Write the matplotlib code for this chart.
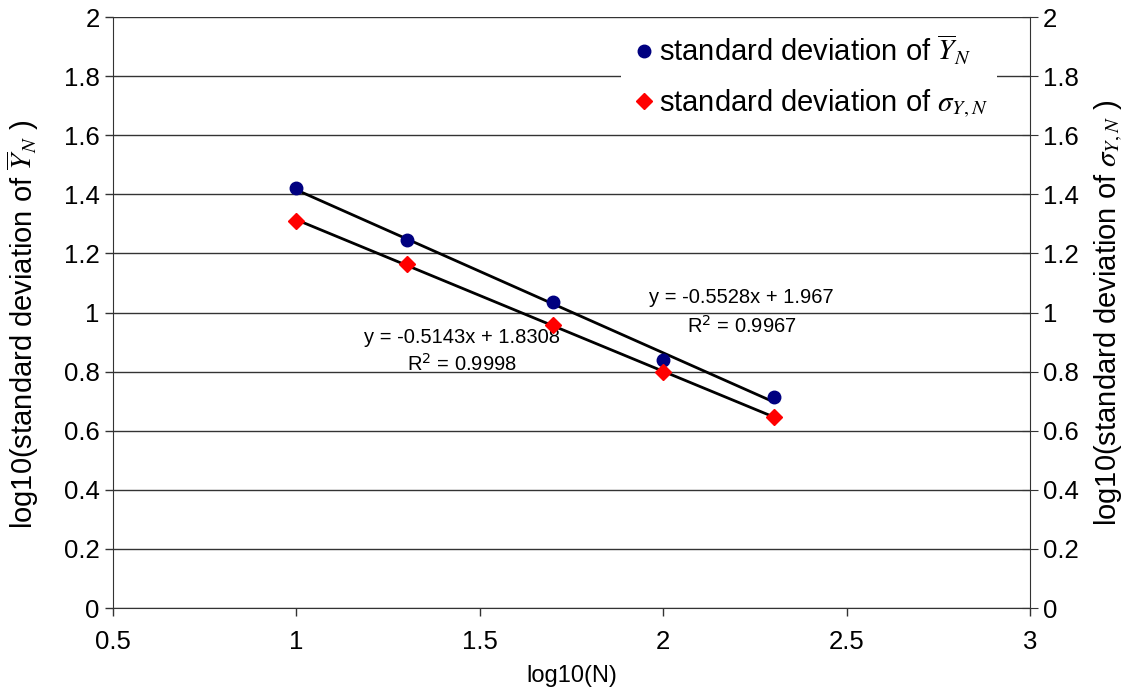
import numpy as np
import matplotlib
matplotlib.use("Agg")
import matplotlib.pyplot as plt

plt.rcParams['font.family'] = ['Liberation Sans', 'DejaVu Sans']
plt.rcParams['mathtext.fontset'] = 'stix'

# data
log_n = [1.0, 1.301, 1.699, 2.0, 2.301]
ybar_sd = [1.421, 1.245, 1.036, 0.839, 0.714]
sigma_sd = [1.310, 1.164, 0.958, 0.799, 0.646]
yticks = [0, 0.2, 0.4, 0.6, 0.8, 1, 1.2, 1.4, 1.6, 1.8, 2]
xticks = [0.5, 1, 1.5, 2, 2.5, 3]

fig = plt.figure(figsize=(11.33, 6.98), dpi=100)
ax = fig.add_axes([0.0997, 0.1289, 0.8094, 0.8467])

ax.plot(log_n, ybar_sd, 'o', color='#000080', ms=9, zorder=4,
        label=r'standard deviation of $\overline{Y}_N$')
ax.plot(log_n, sigma_sd, 'D', color='#ff0000', ms=8.5, zorder=4,
        label=r'standard deviation of $\sigma_{Y,N}$')

# linear trendlines
x = np.array(log_n)
for ys in (ybar_sd, sigma_sd):
    k, b = np.polyfit(x, ys, 1)
    ax.plot(x[[0, -1]], k * x[[0, -1]] + b, color='black', lw=2, zorder=3)

fs_eq = 14.5
ax.text(2.214, 1.052, 'y = -0.5528x + 1.967', ha='center', va='center', fontsize=fs_eq)
ax.text(2.214, 0.954, 'R$^2$ = 0.9967', ha='center', va='center', fontsize=fs_eq,
        math_fontfamily='dejavusans')
ax.text(1.451, 0.917, 'y = -0.5143x + 1.8308', ha='center', va='center', fontsize=fs_eq)
ax.text(1.451, 0.826, 'R$^2$ = 0.9998', ha='center', va='center', fontsize=fs_eq,
        math_fontfamily='dejavusans')

ax.set_xlim(0.5, 3)
ax.set_ylim(0, 2)
ax.set_xticks(xticks)
ax.set_xticklabels([f'{t:g}' for t in xticks])
ax.set_yticks(yticks)
ax.set_yticklabels([f'{t:g}' for t in yticks])
ax.tick_params(axis='both', labelsize=18.5, length=6, direction='out', width=1, color='#333333')
ax.tick_params(axis='x', pad=10)
ax.yaxis.grid(True, color='#333333', lw=1)
ax.set_axisbelow(True)
ax.spines['top'].set_visible(False)
ax.spines['right'].set_visible(False)
for s in ('left', 'bottom'):
    ax.spines[s].set_color('#333333')

ax.set_xlabel('log10(N)', fontsize=17, labelpad=8)
ax.set_ylabel(r'log10(standard deviation of $\overline{Y}_N$ )', fontsize=21)
ax.yaxis.set_label_coords(-0.078, 0.48)

ax2 = ax.twinx()
ax2.set_ylim(0, 2)
ax2.set_yticks(yticks)
ax2.set_yticklabels([f'{t:g}' for t in yticks])
ax2.tick_params(axis='y', labelsize=18.5, length=12, direction='inout', color='#333333')
for s in ('top', 'left', 'bottom'):
    ax2.spines[s].set_visible(False)
ax2.spines['right'].set_color('#333333')
ax2.set_ylabel(r'log10(standard deviation of $\sigma_{Y,N}$ )', fontsize=21, labelpad=10)

leg = ax.legend(loc='upper right', bbox_to_anchor=(0.97, 0.998), fontsize=21,
                frameon=True, fancybox=False, handletextpad=0.0, handlelength=1.0,
                labelspacing=0.7, borderpad=0.3, borderaxespad=0.2)
leg.get_frame().set_edgecolor('none')
leg.get_frame().set_facecolor('white')
leg.get_frame().set_alpha(1)
leg.set_zorder(10)

fig.savefig('out.png', dpi=100)
